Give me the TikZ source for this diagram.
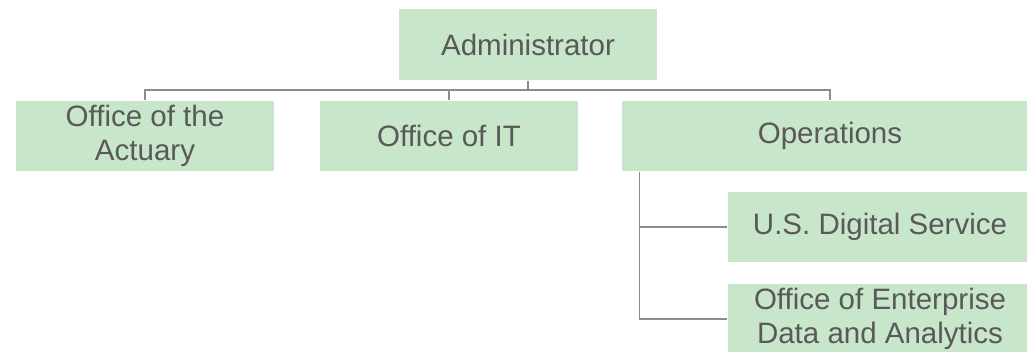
\documentclass[tikz,border=0pt]{standalone}
\usepackage{fontspec}
\setmainfont{Liberation Sans}
\usepackage{xcolor}
\definecolor{boxgreen}{HTML}{C8E6C9}
\definecolor{txtgray}{HTML}{595959}
\definecolor{linegray}{HTML}{8C8C8C}
\usetikzlibrary{positioning}

\begin{document}
\begin{tikzpicture}[x=1pt,y=1pt,line width=1.5pt,
  unit/.style={fill=boxgreen,text=txtgray,align=center,inner sep=0pt,
    minimum height=70pt,font=\fontsize{29.5}{34}\selectfont},
  link/.style={draw=linegray}]
  \useasboundingbox (0,0) rectangle (1027,-351);
  \clip (0,0) rectangle (1027,-351);

  \node[unit,minimum width=258pt,minimum height=71pt] (admin) at (528,-44.5) {Administrator};
  \node[unit,minimum width=258pt] (actuary) at (145,-136) {Office of the\\Actuary};
  \node[unit,minimum width=258pt] (it)      at (449,-136) {Office of IT};
  \node[unit,minimum width=416pt] (ops)     at (830,-136) {Operations};
  \node[unit,minimum width=304pt] (usds)    at (880,-227) {U.S. Digital Service};
  \node[unit,minimum width=304pt] (oeda)    at (880,-319) {Office of Enterprise\\Data and Analytics};

  \coordinate (bus) at (528,-90);

  \path[link] (admin.south) -- (bus) -| (actuary.north)
              (bus) -| (it.north)
              (bus) -| (ops.north);
  \path[link] ([xshift=18pt]ops.south west) |- (usds.west)
              ([xshift=18pt]ops.south west) |- (oeda.west);
\end{tikzpicture}
\end{document}
